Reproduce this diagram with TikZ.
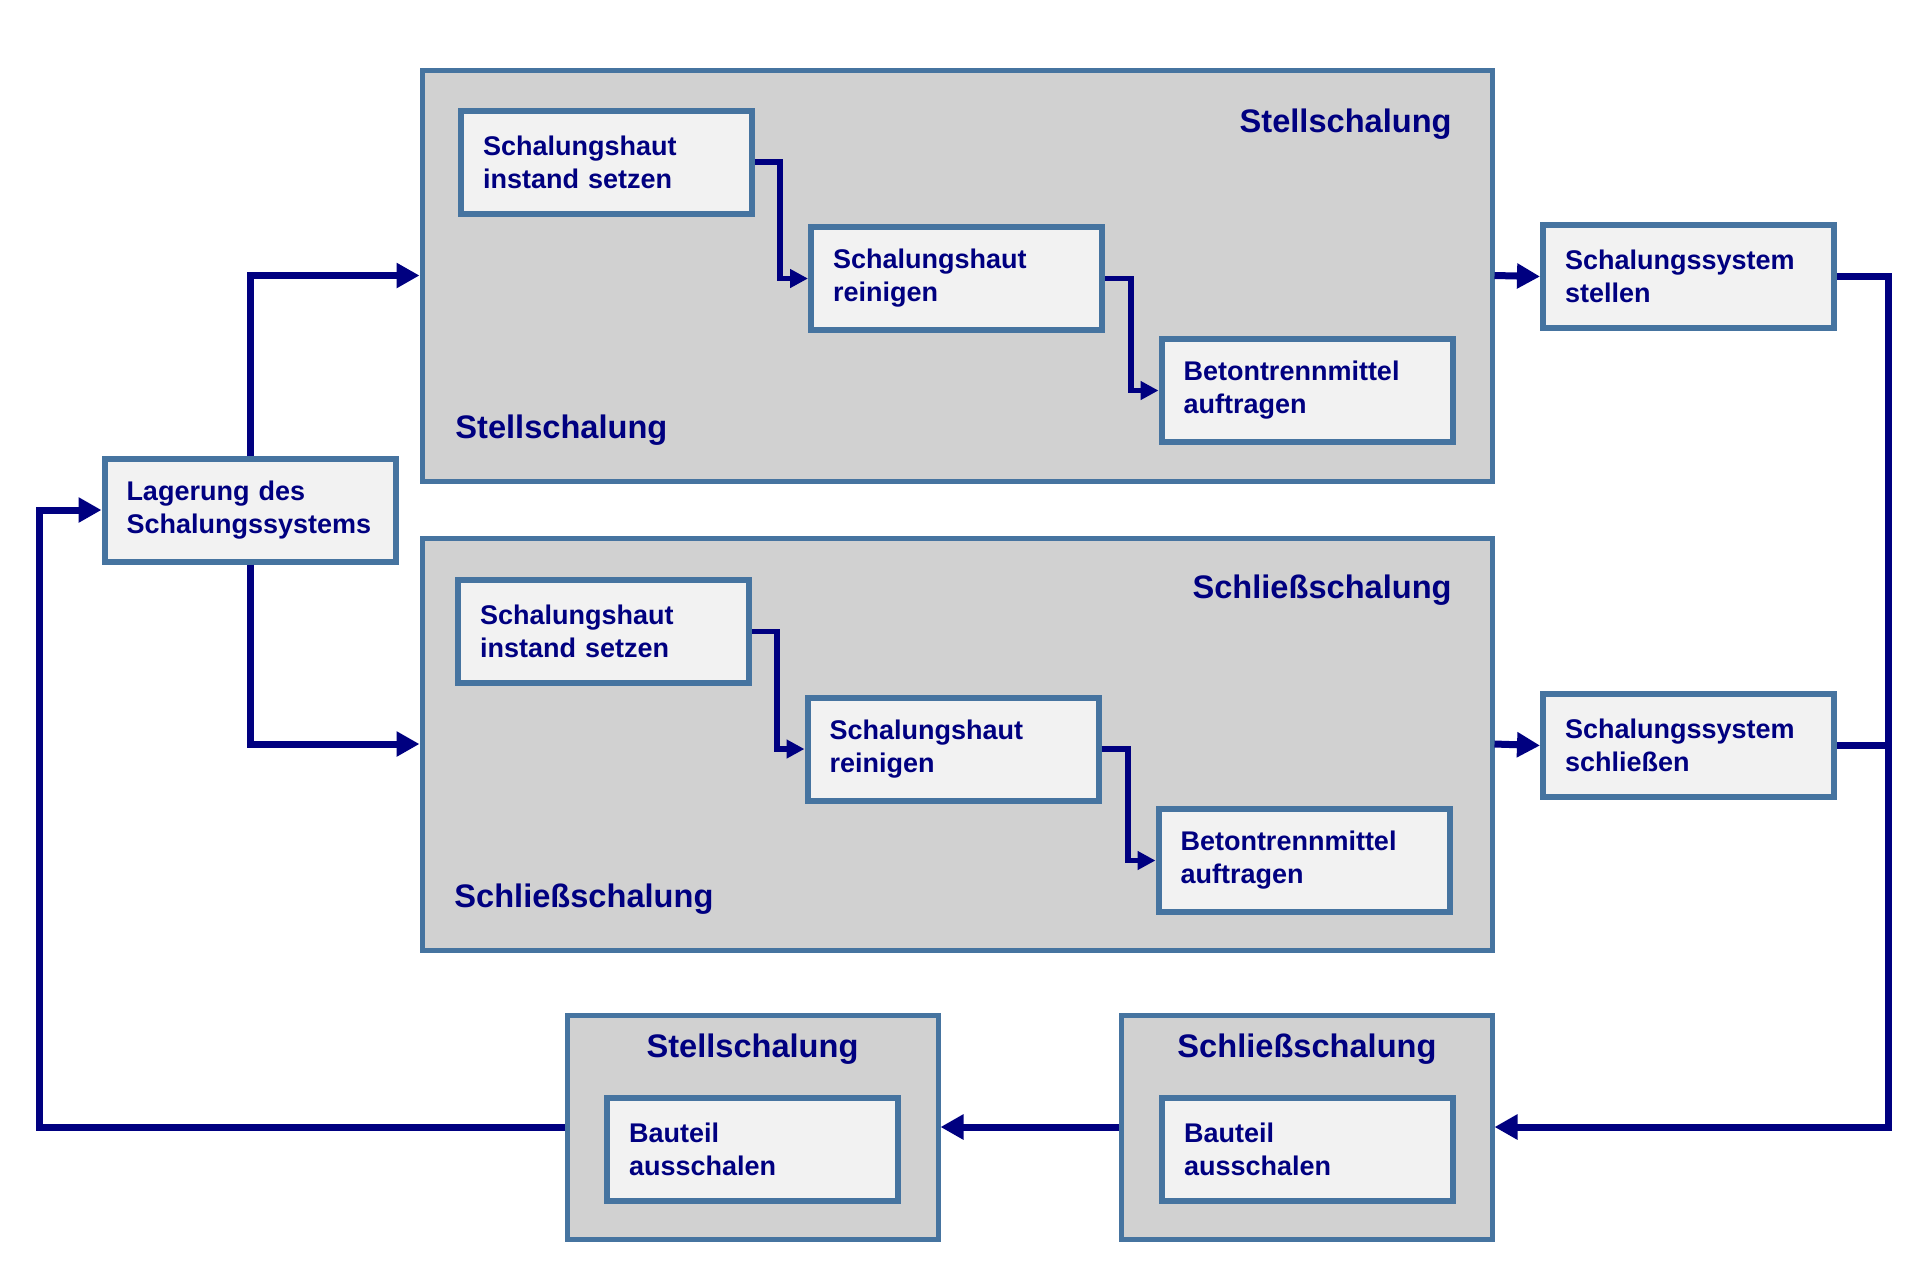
\documentclass[tikz,border=0pt]{standalone}
\usepackage{fontspec}
\setmainfont{Liberation Sans}
\usetikzlibrary{arrows.meta}
\definecolor{navyc}{RGB}{0,0,128}
\definecolor{bord}{RGB}{70,116,160}
\definecolor{grayf}{RGB}{209,209,209}
\definecolor{lightf}{RGB}{242,242,242}
\begin{document}
\begin{tikzpicture}[x=0.5pt,y=-0.5pt,
  bigbox/.style={draw=bord, line width=2.5pt, fill=grayf, rectangle, inner sep=0pt},
  stepbox/.style={draw=bord, line width=3pt, fill=lightf, rectangle, minimum width=145.5pt, minimum height=51.5pt,
    text width=123.5pt, align=left, inner xsep=11pt, inner ysep=0pt,
    font=\bfseries\fontsize{13.5}{16.5}\selectfont, text=navyc},
  titletext/.style={font=\bfseries\fontsize{16.3}{19}\selectfont, text=navyc, inner sep=0pt},
  outerarrow/.style={draw=navyc, line width=3.5pt, -{Triangle[length=11.5pt,width=12pt]}},
  outerline/.style={draw=navyc, line width=3.5pt},
  innerarrow/.style={draw=navyc, line width=2.75pt, -{Triangle[length=9pt,width=9pt]}}
]
\useasboundingbox (0,0) rectangle (1927,1287);

% big boxes
\node[bigbox, minimum width=535pt, minimum height=205.5pt] (top) at (957,275.5) {};
\node[bigbox, minimum width=535pt, minimum height=206pt] (bot) at (957,744) {};
\node[titletext, anchor=base east] (toptitle) at (1452,132) {Stellschalung};
\node[titletext, anchor=base west] (toplabel) at (455,438) {Stellschalung};
\node[titletext, anchor=base east] (bottitle) at (1452,598) {Schließschalung};
\node[titletext, anchor=base west] (botlabel) at (454,907) {Schließschalung};

% steps top
\node[stepbox] (a1) at (606.5,162) {Schalungshaut\\instand setzen};
\node[stepbox] (a2) at (956.5,278.5) {Schalungshaut\\reinigen};
\node[stepbox] (a3) at (1307,390.5) {Betontrennmittel\\auftragen};
% steps bottom
\node[stepbox] (b1) at (603.5,631.5) {Schalungshaut\\instand setzen};
\node[stepbox] (b2) at (953,749) {Schalungshaut\\reinigen};
\node[stepbox] (b3) at (1304,860.5) {Betontrennmittel\\auftragen};

% side boxes
\node[stepbox] (lag) at (250,510) {Lagerung des\\Schalungssystems};
\node[stepbox] (stellen) at (1688.5,276.5) {Schalungssystem\\stellen};
\node[stepbox] (schl) at (1688.5,745.5) {Schalungssystem\\schließen};

% bottom boxes
\node[bigbox, minimum width=185.5pt, minimum height=112pt] (blo) at (752.5,1127) {};
\node[titletext, anchor=base] (blt) at (752.5,1057) {Stellschalung};
\node[stepbox] (bli) at (752.5,1149) {Bauteil\\ausschalen};
\node[bigbox, minimum width=185.5pt, minimum height=112pt] (bro) at (1306.5,1127) {};
\node[titletext, anchor=base] (brt) at (1307,1057) {Schließschalung};
\node[stepbox] (bri) at (1307.5,1149) {Bauteil\\ausschalen};

% inner arrows
\coordinate (e1) at (780,278.5);
\coordinate (e2) at (1131,390.5);
\coordinate (e3) at (777,749);
\coordinate (e4) at (1128,860.5);
\draw[innerarrow] (a1.east) -| (e1) -- (a2.west);
\draw[innerarrow] (a2.east) -| (e2) -- (a3.west);
\draw[innerarrow] (b1.east) -| (e3) -- (b2.west);
\draw[innerarrow] (b2.east) -| (e4) -- (b3.west);

% outer arrows
\coordinate (lx) at (39,1127);
\coordinate (rx) at (1888,1127);
\draw[outerarrow] (lag.north) |- (top.west);
\draw[outerarrow] (lag.south) |- (bot.west);
\draw[outerarrow] (top.east) -- (stellen.west);
\draw[outerarrow] (bot.east) -- (schl.west);
\draw[outerarrow] (stellen.east) -| (rx) -- (bro.east);
\draw[outerline] (schl.east) -- (schl.east -| rx);
\draw[outerarrow] (bro.west) -- (blo.east);
\draw[outerarrow] (blo.west) -- (lx) |- (lag.west);
\end{tikzpicture}
\end{document}
